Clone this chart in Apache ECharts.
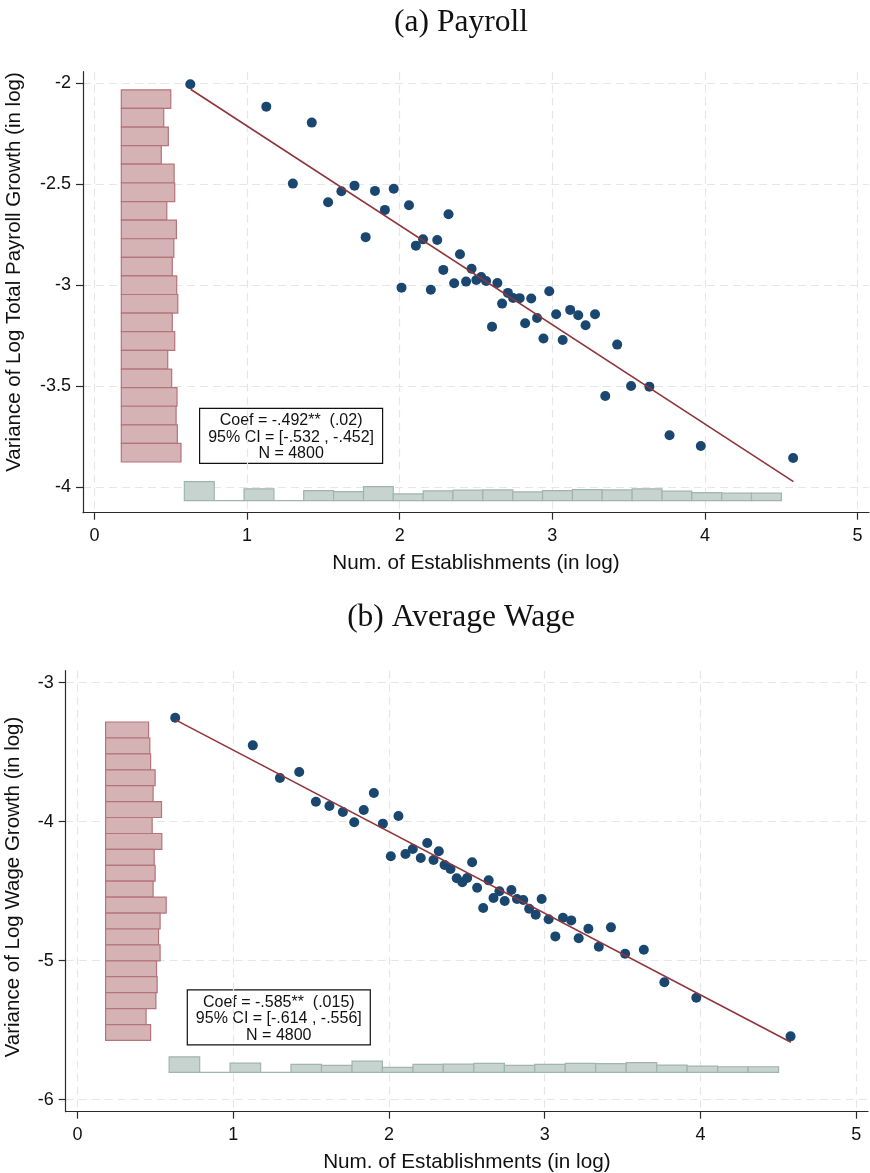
<!DOCTYPE html>
<html>
<head>
<meta charset="utf-8">
<script src="https://cdn.jsdelivr.net/npm/echarts@6/dist/echarts.min.js"></script>
<style>html,body{margin:0;padding:0;background:#fff}#c{width:870px;height:1173px}</style>
</head>
<body>
<div id="c"></div>
<script>
// ---- Data ----
const xBins = [0.628,1.126,1.300,1.424,1.531,1.618,1.704,1.777,1.838,1.903,1.961,2.012,2.061,2.106,2.153,2.204,2.246,2.286,2.320,2.357,2.395,2.435,2.471,2.502,2.534,2.566,2.605,2.640,2.671,2.709,2.743,2.786,2.822,2.862,2.900,2.942,2.980,3.025,3.068,3.117,3.170,3.218,3.280,3.347,3.425,3.516,3.636,3.768,3.973,4.578];
const payrollVar = [-2.005,-2.116,-2.497,-2.195,-2.589,-2.535,-2.507,-2.762,-2.533,-2.627,-2.522,-3.012,-2.604,-2.804,-2.773,-3.022,-2.776,-2.924,-2.649,-2.990,-2.847,-2.982,-2.918,-2.974,-2.959,-2.979,-3.205,-2.989,-3.091,-3.038,-3.063,-3.064,-3.188,-3.066,-3.162,-3.264,-3.030,-3.144,-3.271,-3.122,-3.149,-3.198,-3.144,-3.548,-3.294,-3.499,-3.502,-3.743,-3.796,-3.855];
const wageVar = [-3.252,-3.451,-3.686,-3.642,-3.856,-3.887,-3.930,-4.004,-3.916,-3.794,-4.014,-4.249,-3.959,-4.232,-4.196,-4.261,-4.153,-4.276,-4.213,-4.311,-4.340,-4.407,-4.436,-4.405,-4.292,-4.475,-4.621,-4.422,-4.549,-4.501,-4.571,-4.491,-4.556,-4.563,-4.626,-4.669,-4.556,-4.702,-4.825,-4.691,-4.710,-4.839,-4.770,-4.899,-4.760,-4.950,-4.921,-5.155,-5.266,-5.544];

// fitted lines (endpoints)
const fitX = [0.63, 4.58];
const payrollFit = [-2.030, -3.972];
const wageFit = [-3.268, -5.587];

// marginal histogram of x (shared bin edges)
const xHistEdges = [0.589,0.785,0.980,1.176,1.371,1.567,1.763,1.958,2.154,2.349,2.545,2.741,2.936,3.132,3.327,3.523,3.719,3.914,4.110,4.305,4.501];
const payrollXHist = [0.094,0,0.058,0,0.0495,0.0446,0.0693,0.0332,0.048,0.052,0.053,0.043,0.0495,0.0545,0.053,0.058,0.0465,0.0396,0.0366,0.0366];
const wageXHist = [0.112,0,0.067,0,0.0576,0.0504,0.0813,0.036,0.0576,0.0597,0.0647,0.0504,0.0576,0.0647,0.0626,0.0698,0.0525,0.0453,0.0403,0.0403];

// marginal histograms of y
const payrollYEdges = [-2.033,-2.125,-2.217,-2.309,-2.401,-2.494,-2.586,-2.678,-2.770,-2.862,-2.954,-3.046,-3.138,-3.230,-3.322,-3.415,-3.507,-3.599,-3.691,-3.783,-3.875];
const payrollYHist = [0.324,0.278,0.308,0.262,0.346,0.350,0.298,0.361,0.344,0.334,0.363,0.370,0.334,0.350,0.304,0.330,0.365,0.359,0.367,0.391];
const wageYEdges = [-3.283,-3.398,-3.512,-3.627,-3.741,-3.856,-3.970,-4.085,-4.199,-4.314,-4.428,-4.543,-4.657,-4.772,-4.886,-5.001,-5.115,-5.230,-5.344,-5.459,-5.573];
const wageYHist = [0.276,0.284,0.289,0.318,0.305,0.359,0.299,0.361,0.312,0.318,0.305,0.389,0.350,0.340,0.350,0.327,0.331,0.323,0.260,0.289];

const xTicks = [0,1,2,3,4,5];
const payrollYTicks = [-4,-3.5,-3,-2.5,-2];
const wageYTicks = [-6,-5,-4,-3];

const titles = ['(a) Payroll', '(b) Average Wage'];
const xTitle = 'Num. of Establishments (in log)';
const yTitles = ['Variance of Log Total Payroll Growth (in log)', 'Variance of Log Wage Growth (in log)'];
const notes = [
  'Coef = -.492**  (.02)\n95% CI = [-.532 , -.452]\nN = 4800',
  'Coef = -.585**  (.015)\n95% CI = [-.614 , -.556]\nN = 4800'
];

// ---- Styles ----
const SANS = 'Liberation Sans, Arial, Helvetica, sans-serif';
const SERIF = 'Liberation Serif, Times New Roman, serif';
const NAVY = '#1a476f', MAROON = '#90353b';
const YH_FILL = '#d5b2b4', YH_STROKE = '#b5737a';
const XH_FILL = '#c6d3cf', XH_STROKE = '#a0b5ae';
const AXIS = '#2a2a2a', GRID = '#e6e6e6';

function zip(xs, ys) { return xs.map((x, i) => [x, ys[i]]); }
function xHistData(edges, h) { return h.map((v, i) => [edges[i], edges[i + 1], v]); }
function yHistData(edges, h) { return h.map((v, i) => [edges[i + 1], edges[i], v]); }

function xHistSeries(idx, data, base) {
  return {
    type: 'custom', xAxisIndex: idx, yAxisIndex: idx, z: 2, silent: true,
    data: data,
    renderItem: function (params, api) {
      const a = api.coord([api.value(0), base + api.value(2)]);
      const b = api.coord([api.value(1), base]);
      return { type: 'rect', shape: { x: a[0], y: a[1], width: b[0] - a[0], height: b[1] - a[1] },
        style: { fill: XH_FILL, stroke: XH_STROKE, lineWidth: 1.2 } };
    }
  };
}
function yHistSeries(idx, data, base) {
  return {
    type: 'custom', xAxisIndex: idx, yAxisIndex: idx, z: 2, silent: true,
    data: data,
    renderItem: function (params, api) {
      const a = api.coord([base, api.value(1)]);
      const b = api.coord([base + api.value(2), api.value(0)]);
      return { type: 'rect', shape: { x: a[0], y: a[1], width: b[0] - a[0], height: b[1] - a[1] },
        style: { fill: YH_FILL, stroke: YH_STROKE, lineWidth: 1.2 } };
    }
  };
}

function xAxisCfg(idx) {
  return {
    type: 'value', gridIndex: idx, min: -0.075, max: 5.075,
    axisLine: { show: true, onZero: false, lineStyle: { color: AXIS, width: 1.2 } },
    axisTick: { show: true, length: 7, customValues: xTicks, lineStyle: { color: AXIS, width: 1.2 } },
    axisLabel: { customValues: xTicks, margin: 14, fontSize: 18, color: '#111', fontFamily: SANS,
      formatter: v => String(v) },
    splitLine: { show: true, lineStyle: { color: GRID, type: [8, 5], width: 1.2 } },
    name: xTitle, nameLocation: 'middle', nameGap: 40,
    nameTextStyle: { fontSize: 20.7, color: '#111', fontFamily: SANS }
  };
}
function yAxisCfg(idx, min, max, ticks) {
  return {
    type: 'value', gridIndex: idx, min: min, max: max,
    axisLine: { show: true, onZero: false, lineStyle: { color: AXIS, width: 1.2 } },
    axisTick: { show: true, length: 7, customValues: ticks, lineStyle: { color: AXIS, width: 1.2 } },
    axisLabel: { customValues: ticks, margin: 12, fontSize: 18, color: '#111', fontFamily: SANS,
      formatter: v => String(v) },
    splitLine: { show: true, lineStyle: { color: GRID, type: [8, 5], width: 1.2 } }
  };
}

function noteBox(text, x, y) {
  return {
    type: 'group', left: x, top: y, z: 50,
    children: [
      { type: 'rect', shape: { x: 0, y: 0, width: 183, height: 55 },
        style: { fill: '#fff', stroke: '#111', lineWidth: 1.2 } },
      { type: 'text', x: 91.5, y: 4,
        style: { text: text, fill: '#111', font: '16px ' + SANS, textAlign: 'center', lineHeight: 16.7 } }
    ]
  };
}
function yTitle(text, cx, cy) {
  return {
    type: 'text', x: cx, y: cy, rotation: Math.PI / 2, z: 50,
    style: { text: text, fill: '#111', font: '20.5px ' + SANS, textAlign: 'center', textVerticalAlign: 'middle' }
  };
}

const chart = echarts.init(document.getElementById('c'), null, { renderer: 'canvas' });
chart.setOption({
  animation: false,
  backgroundColor: '#fff',
  title: [
    { text: titles[0], left: 456, top: 2, textAlign: 'center',
      textStyle: { fontFamily: SERIF, fontSize: 31.5, fontWeight: 'normal', color: '#111' } },
    { text: titles[1], left: 456, top: 597, textAlign: 'center',
      textStyle: { fontFamily: SERIF, fontSize: 31.5, fontWeight: 'normal', color: '#111' } }
  ],
  grid: [
    { left: 83, top: 71.7, width: 786, height: 441, outerBoundsMode: 'none', containLabel: false },
    { left: 65.7, top: 670.7, width: 802.3, height: 441, outerBoundsMode: 'none', containLabel: false }
  ],
  xAxis: [xAxisCfg(0), xAxisCfg(1)],
  yAxis: [yAxisCfg(0, -4.126, -1.943, payrollYTicks), yAxisCfg(1, -6.086, -2.914, wageYTicks)],
  series: [
    yHistSeries(0, yHistData(payrollYEdges, payrollYHist), 0.176),
    xHistSeries(0, xHistData(xHistEdges, payrollXHist), -4.066),
    { type: 'scatter', xAxisIndex: 0, yAxisIndex: 0, z: 3, symbolSize: 10,
      itemStyle: { color: NAVY, opacity: 1 }, data: zip(xBins, payrollVar) },
    { type: 'line', xAxisIndex: 0, yAxisIndex: 0, z: 4, showSymbol: false, symbol: 'none',
      lineStyle: { color: MAROON, width: 1.6 }, data: zip(fitX, payrollFit) },

    yHistSeries(1, yHistData(wageYEdges, wageYHist), 0.181),
    xHistSeries(1, xHistData(xHistEdges, wageXHist), -5.803),
    { type: 'scatter', xAxisIndex: 1, yAxisIndex: 1, z: 3, symbolSize: 10,
      itemStyle: { color: NAVY, opacity: 1 }, data: zip(xBins, wageVar) },
    { type: 'line', xAxisIndex: 1, yAxisIndex: 1, z: 4, showSymbol: false, symbol: 'none',
      lineStyle: { color: MAROON, width: 1.6 }, data: zip(fitX, wageFit) }
  ],
  graphic: [
    noteBox(notes[0], 199, 407.7), noteBox(notes[1], 186.7, 989.3),
    yTitle(yTitles[0], 14, 272), yTitle(yTitles[1], 13, 887)
  ]
});
</script>
</body>
</html>
